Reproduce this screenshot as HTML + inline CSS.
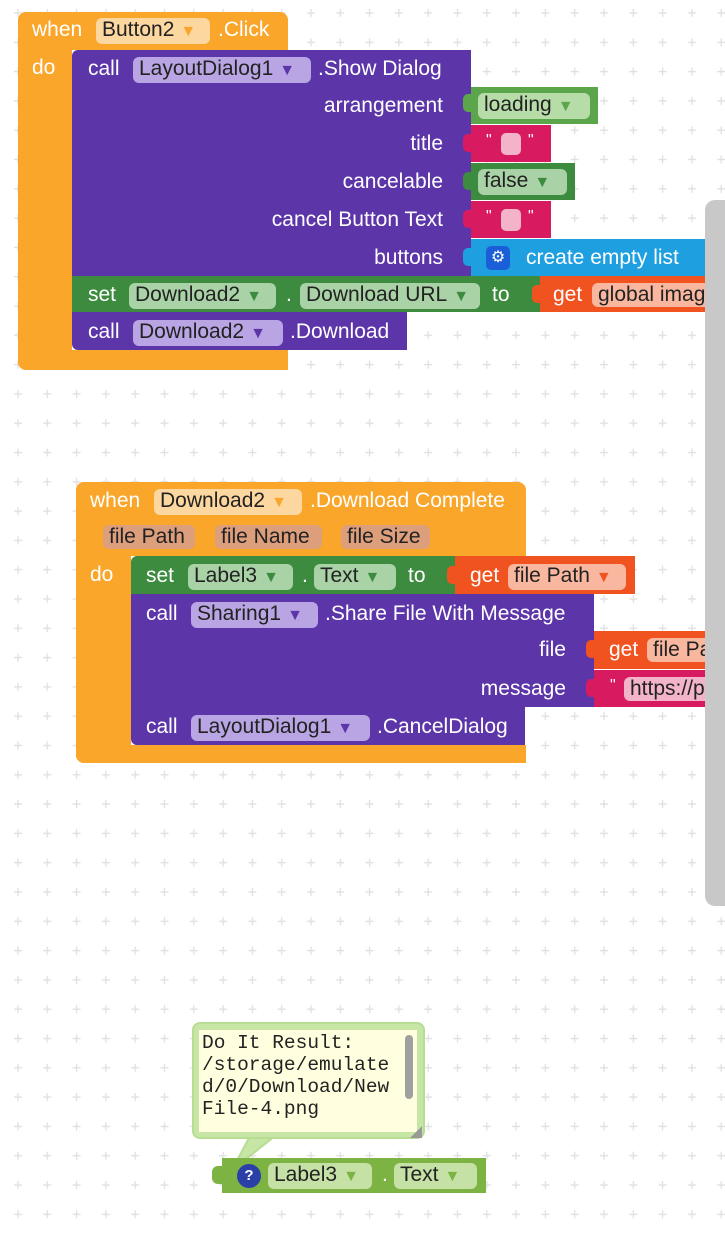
<!DOCTYPE html>
<html><head><meta charset="utf-8"><style>
*{margin:0;padding:0;box-sizing:border-box}
body{width:725px;height:1238px;position:relative;overflow:hidden;background:#fff;font-family:"Liberation Sans",sans-serif}
.a{position:absolute}
.t{position:absolute;color:#fff;font-size:21px;line-height:24px;white-space:nowrap}
.dd{position:absolute;border-radius:6px;color:#222;font-size:21px;line-height:24px;padding-left:6px;white-space:nowrap;overflow:hidden}
.or{background:#f9a62b}.pu{background:#5c35a9}.gr{background:#3d8b3f}.rd{background:#d81b60}.bl{background:#1e9fe0}.go{background:#f0531f}
.dpu{background:#b9a5e3}.dor{background:#fdd7a0}.dgr{background:#a9d3a6}.dgo{background:#f9b7a0}
.ar{font-size:16px;margin-left:6px}
.pu .ar,.dpu .ar{color:#5c35a9}
</style></head><body>
<svg class="a" style="left:0;top:0" width="725" height="1238">
<defs><pattern id="g" x="7" y="2" width="29.3" height="29.3" patternUnits="userSpaceOnUse">
<path d="M11 7v8M7 11h8" stroke="#e0e0e0" stroke-width="1.3"/></pattern></defs>
<rect width="725" height="1238" fill="url(#g)"/>
</svg>

<!-- Block 1 -->
<div class="a or" style="left:18px;top:12px;width:270px;height:38px;border-radius:8px 8px 0 0"></div>
<div class="a or" style="left:18px;top:12px;width:54px;height:358px;border-radius:8px 0 0 8px"></div>
<div class="a or" style="left:18px;top:350px;width:270px;height:20px;border-radius:0 0 0 8px"></div>
<div class="t" style="left:32px;top:18px">when</div>
<div class="dd dor" style="left:96px;top:18px;width:114px">Button2<span class="ar" style="color:#f9a62b">▼</span></div>
<div class="t" style="left:218px;top:18px">.Click</div>
<div class="t" style="left:32px;top:56px">do</div>

<div class="a pu" style="left:72px;top:50px;width:399px;height:226px;border-radius:6px 0 0 0"></div>
<div class="t" style="left:88px;top:57px">call</div>
<div class="dd dpu" style="left:133px;top:57px;width:178px">LayoutDialog1<span class="ar">▼</span></div>
<div class="t" style="left:318px;top:57px">.Show Dialog</div>
<div class="t" style="right:282px;top:94px">arrangement</div>
<div class="t" style="right:282px;top:132px">title</div>
<div class="t" style="right:282px;top:170px">cancelable</div>
<div class="t" style="right:282px;top:208px">cancel Button Text</div>
<div class="t" style="right:282px;top:246px">buttons</div>

<div class="a" style="left:463px;top:94px;width:10px;height:18px;background:#5ba54a;border-radius:5px 0 0 5px"></div>
<div class="a" style="left:471px;top:87px;width:127px;height:37px;background:#5ba54a"></div>
<div class="dd dgr" style="left:478px;top:93px;width:112px;color:#222;background:#b6dca8">loading<span class="ar" style="color:#5ba54a">▼</span></div>
<div class="a rd" style="left:463px;top:134px;width:10px;height:18px;border-radius:5px 0 0 5px"></div>
<div class="a rd" style="left:471px;top:125px;width:80px;height:37px"></div>
<div class="t" style="left:486px;top:129px;font-size:16px">"</div>
<div class="a" style="left:501px;top:133px;width:20px;height:22px;background:#f3b3c8;border-radius:5px"></div>
<div class="t" style="left:528px;top:129px;font-size:16px">"</div>
<div class="a" style="left:463px;top:172px;width:10px;height:18px;background:#3d8b3f;border-radius:5px 0 0 5px"></div>
<div class="a gr" style="left:471px;top:163px;width:104px;height:37px"></div>
<div class="dd dgr" style="left:478px;top:169px;width:89px">false<span class="ar" style="color:#3d8b3f">▼</span></div>
<div class="a rd" style="left:463px;top:210px;width:10px;height:18px;border-radius:5px 0 0 5px"></div>
<div class="a rd" style="left:471px;top:201px;width:80px;height:37px"></div>
<div class="t" style="left:486px;top:205px;font-size:16px">"</div>
<div class="a" style="left:501px;top:209px;width:20px;height:22px;background:#f3b3c8;border-radius:5px"></div>
<div class="t" style="left:528px;top:205px;font-size:16px">"</div>
<div class="a bl" style="left:463px;top:248px;width:10px;height:18px;border-radius:5px 0 0 5px"></div>
<div class="a bl" style="left:471px;top:239px;width:234px;height:37px"></div>
<div class="a" style="left:486px;top:246px;width:24px;height:24px;background:#1a5fd8;border-radius:5px;color:#fff;font-size:16px;line-height:24px;text-align:center">⚙</div>
<div class="t" style="left:526px;top:246px">create empty list</div>

<div class="a gr" style="left:72px;top:276px;width:468px;height:36px"></div>
<div class="t" style="left:88px;top:283px">set</div>
<div class="dd dgr" style="left:129px;top:283px;width:147px">Download2<span class="ar" style="color:#3d8b3f">▼</span></div>
<div class="t" style="left:286px;top:283px">.</div>
<div class="dd dgr" style="left:300px;top:283px;width:180px">Download URL<span class="ar" style="color:#3d8b3f">▼</span></div>
<div class="t" style="left:492px;top:283px">to</div>
<div class="a go" style="left:532px;top:285px;width:10px;height:18px;border-radius:5px 0 0 5px"></div>
<div class="a go" style="left:540px;top:276px;width:165px;height:36px"></div>
<div class="t" style="left:553px;top:283px">get</div>
<div class="dd dgo" style="left:592px;top:283px;width:113px;border-radius:6px 0 0 6px">global imag</div>

<div class="a pu" style="left:72px;top:312px;width:335px;height:38px;border-radius:0 0 0 6px"></div>
<div class="t" style="left:88px;top:320px">call</div>
<div class="dd dpu" style="left:133px;top:320px;width:150px">Download2<span class="ar">▼</span></div>
<div class="t" style="left:290px;top:320px">.Download</div>

<!-- Block 2 -->
<div class="a or" style="left:76px;top:482px;width:450px;height:74px;border-radius:8px 8px 0 0"></div>
<div class="a or" style="left:76px;top:482px;width:55px;height:281px;border-radius:8px 0 0 8px"></div>
<div class="a or" style="left:76px;top:745px;width:450px;height:18px;border-radius:0 0 0 8px"></div>
<div class="t" style="left:90px;top:489px">when</div>
<div class="dd dor" style="left:154px;top:489px;width:148px">Download2<span class="ar" style="color:#f9a62b">▼</span></div>
<div class="t" style="left:310px;top:489px">.Download Complete</div>
<div class="dd" style="left:103px;top:525px;width:92px;background:#dd9e7c">file Path</div>
<div class="dd" style="left:215px;top:525px;width:107px;background:#dd9e7c">file Name</div>
<div class="dd" style="left:341px;top:525px;width:89px;background:#dd9e7c">file Size</div>
<div class="t" style="left:90px;top:563px">do</div>

<div class="a gr" style="left:131px;top:556px;width:324px;height:38px;border-radius:6px 0 0 0"></div>
<div class="t" style="left:146px;top:564px">set</div>
<div class="dd dgr" style="left:188px;top:564px;width:105px">Label3<span class="ar" style="color:#3d8b3f">▼</span></div>
<div class="t" style="left:302px;top:564px">.</div>
<div class="dd dgr" style="left:314px;top:564px;width:82px">Text<span class="ar" style="color:#3d8b3f">▼</span></div>
<div class="t" style="left:408px;top:564px">to</div>
<div class="a go" style="left:447px;top:566px;width:10px;height:18px;border-radius:5px 0 0 5px"></div>
<div class="a go" style="left:455px;top:556px;width:180px;height:38px"></div>
<div class="t" style="left:470px;top:564px">get</div>
<div class="dd dgo" style="left:508px;top:564px;width:118px">file Path<span class="ar" style="color:#f0531f">▼</span></div>

<div class="a pu" style="left:131px;top:594px;width:463px;height:113px"></div>
<div class="t" style="left:146px;top:602px">call</div>
<div class="dd dpu" style="left:191px;top:602px;width:127px">Sharing1<span class="ar">▼</span></div>
<div class="t" style="left:325px;top:602px">.Share File With Message</div>
<div class="t" style="right:159px;top:638px">file</div>
<div class="t" style="right:159px;top:677px">message</div>
<div class="a go" style="left:586px;top:640px;width:10px;height:18px;border-radius:5px 0 0 5px"></div>
<div class="a go" style="left:594px;top:631px;width:111px;height:38px"></div>
<div class="t" style="left:609px;top:638px">get</div>
<div class="dd dgo" style="left:647px;top:638px;width:58px;border-radius:6px 0 0 6px">file Pa</div>
<div class="a rd" style="left:586px;top:679px;width:10px;height:18px;border-radius:5px 0 0 5px"></div>
<div class="a rd" style="left:594px;top:670px;width:111px;height:37px"></div>
<div class="t" style="left:610px;top:674px;font-size:16px">"</div>
<div class="dd" style="left:624px;top:677px;width:81px;background:#f3b3c8;border-radius:6px 0 0 6px">https://p</div>

<div class="a pu" style="left:131px;top:707px;width:394px;height:38px;border-radius:0 0 0 6px"></div>
<div class="t" style="left:146px;top:715px">call</div>
<div class="dd dpu" style="left:191px;top:715px;width:179px">LayoutDialog1<span class="ar">▼</span></div>
<div class="t" style="left:377px;top:715px">.CancelDialog</div>

<!-- scrollbar -->
<div class="a" style="left:705px;top:200px;width:20px;height:706px;background:#c8c8c8;border-radius:10px 0 0 10px"></div>

<!-- comment -->
<svg class="a" style="left:0;top:0" width="725" height="1238">
<path d="M250 1136 L232 1170 L275 1136 Z" fill="#c7e6a6" stroke="#b6dd92" stroke-width="2"/>
</svg>
<div class="a" style="left:192px;top:1022px;width:233px;height:117px;background:#c7e6a6;border-radius:8px;border:2px solid #b6dd92"></div>
<div class="a" style="left:199px;top:1030px;width:218px;height:102px;background:#ffffdf"></div>
<div class="a" style="left:202px;top:1032px;font-family:'Liberation Mono',monospace;font-size:19.5px;line-height:22px;color:#222;white-space:pre">Do It Result:
/storage/emulate
d/0/Download/New
File-4.png</div>
<div class="a" style="left:405px;top:1035px;width:8px;height:64px;background:#a0a0a0;border-radius:4px"></div>
<div class="a" style="left:410px;top:1126px;width:0;height:0;border-left:12px solid transparent;border-bottom:12px solid #999"></div>

<div class="a" style="left:212px;top:1166px;width:12px;height:18px;background:#7cb342;border-radius:6px 0 0 6px"></div>
<div class="a" style="left:222px;top:1158px;width:264px;height:35px;background:#7cb342"></div>
<div class="a" style="left:237px;top:1164px;width:24px;height:24px;border-radius:50%;background:#2a3fa8;color:#fff;font-size:15px;font-weight:bold;line-height:24px;text-align:center">?</div>
<div class="dd" style="left:268px;top:1163px;width:104px;background:#c5e1a5">Label3<span class="ar" style="color:#7cb342">▼</span></div>
<div class="t" style="left:382px;top:1163px">.</div>
<div class="dd" style="left:394px;top:1163px;width:83px;background:#c5e1a5">Text<span class="ar" style="color:#7cb342">▼</span></div>
</body></html>
